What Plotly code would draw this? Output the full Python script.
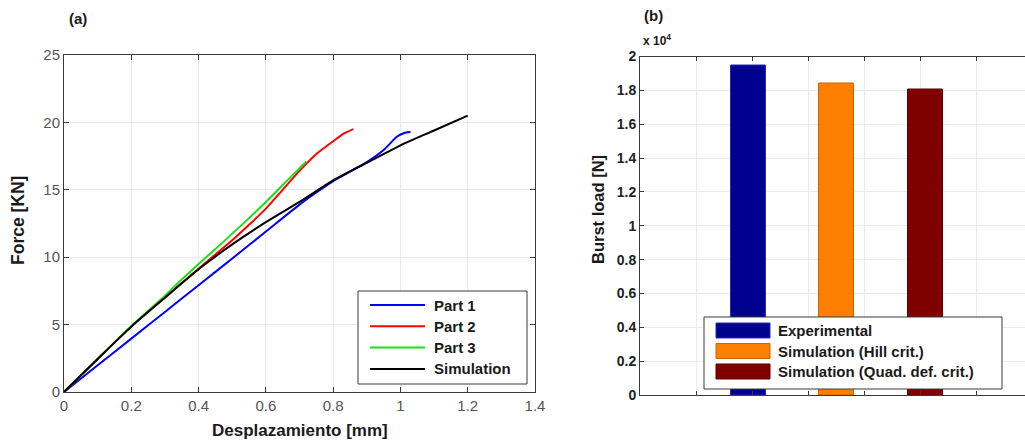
import plotly.graph_objects as go

# ---------------- data ----------------
part1_x = [0, 0.1, 0.2, 0.3, 0.4, 0.5, 0.6, 0.7, 0.75, 0.8, 0.9, 0.95, 0.99, 1.01, 1.03]
part1_y = [0, 1.98, 3.96, 5.94, 7.92, 9.9, 11.9, 13.9, 14.8, 15.65, 17.05, 17.95, 18.95, 19.2, 19.3]

part2_x = [0, 0.1, 0.2, 0.3, 0.4, 0.45, 0.5, 0.55, 0.6, 0.65, 0.7, 0.75, 0.8, 0.83, 0.86]
part2_y = [0, 2.45, 4.85, 7.0, 9.15, 10.2, 11.25, 12.4, 13.6, 15.0, 16.4, 17.65, 18.6, 19.15, 19.5]

part3_x = [0, 0.1, 0.2, 0.3, 0.35, 0.4, 0.45, 0.5, 0.55, 0.6, 0.65, 0.7, 0.72]
part3_y = [0, 2.45, 4.9, 7.15, 8.35, 9.5, 10.6, 11.75, 12.9, 14.1, 15.35, 16.6, 17.1]

sim_x = [0, 0.1, 0.2, 0.3, 0.4, 0.5, 0.6, 0.7, 0.8, 0.9, 1.0, 1.1, 1.2]
sim_y = [0, 2.45, 4.85, 7.0, 9.1, 10.95, 12.6, 14.1, 15.7, 17.0, 18.3, 19.4, 20.5]

line_names = ["Part 1", "Part 2", "Part 3", "Simulation"]

bar_names = ["Experimental", "Simulation (Hill crit.)", "Simulation (Quad. def. crit.)"]
burst_load = [19470, 18390, 18060]   # N

burst_ticks = [0, 2000, 4000, 6000, 8000, 10000, 12000, 14000, 16000, 18000, 20000]
burst_ticktext = ["0", "0.2", "0.4", "0.6", "0.8", "1", "1.2", "1.4", "1.6", "1.8", "2"]

# ---------------- styles / layout constants ----------------
W, H = 1025, 441
FONT = "Liberation Sans, Arial, sans-serif"
line_colors = ["#0000ff", "#ff0000", "#19e019", "#000000"]
bar_colors = ["#00008f", "#ff8000", "#800000"]
bar_edges = ["#2a2ab0", "#d06000", "#600000"]
GRID = "#ebebeb"
AXC = "#3a3a3a"

def px(x):
    return x / W

def py(y):
    return 1 - y / H

fig = go.Figure()

series = [(part1_x, part1_y), (part2_x, part2_y), (part3_x, part3_y), (sim_x, sim_y)]
for (xs, ys), name, col in zip(series, line_names, line_colors):
    fig.add_trace(go.Scatter(x=xs, y=ys, mode="lines", name=name,
                             line=dict(color=col, width=2, shape="spline", smoothing=0.6),
                             showlegend=False, xaxis="x", yaxis="y"))

# bars: positions on a numeric axis whose tick spacing is 1
BAR_START, BAR_STEP, BAR_WIDTH = 1.93, 1.58, 0.625
for i, (name, val) in enumerate(zip(bar_names, burst_load)):
    fig.add_trace(go.Bar(x=[BAR_START + i * BAR_STEP], y=[val], name=name, width=BAR_WIDTH,
                         marker=dict(color=bar_colors[i], line=dict(color=bar_edges[i], width=1)),
                         showlegend=False, xaxis="x2", yaxis="y2"))

common_axis = dict(showline=True, linecolor=AXC, linewidth=1, ticks="inside",
                   tickcolor=AXC, ticklen=5, mirror="ticks", zeroline=False,
                   showgrid=True, gridcolor=GRID, gridwidth=1, automargin=False)

fig.update_layout(
    template="none",
    width=W, height=H,
    margin=dict(l=0, r=0, t=0, b=0, pad=0),
    paper_bgcolor="white", plot_bgcolor="white",
    font=dict(family=FONT, color="#222222"),
    showlegend=False,
    xaxis=dict(domain=[px(64), px(535)], range=[0, 1.4], tick0=0, dtick=0.2,
               tickfont=dict(size=15, color="#555555"), anchor="y",
               **common_axis),
    yaxis=dict(domain=[py(392), py(55)], range=[0, 25], tick0=0, dtick=5,
               tickfont=dict(size=15, color="#555555"), anchor="x",
               **common_axis),
    xaxis2=dict(domain=[px(640), 1], range=[0, (1025 - 640) / 56], tick0=0, dtick=1,
                showticklabels=False, anchor="y2", automargin=False,
                showline=True, linecolor=AXC, linewidth=1, ticks="inside",
                tickcolor=AXC, ticklen=4, mirror="ticks", zeroline=False,
                showgrid=True, gridcolor=GRID),
    yaxis2=dict(domain=[py(395), py(56.5)], range=[0, 20000],
                tickmode="array", tickvals=burst_ticks, ticktext=burst_ticktext,
                tickfont=dict(size=14, color="#222222", family=FONT, weight="bold"),
                anchor="x2", automargin=False, showline=True, linecolor=AXC, linewidth=1,
                ticks="inside", tickcolor=AXC, ticklen=4, mirror=False, zeroline=False,
                showgrid=True, gridcolor=GRID),
    bargap=0,
)

annotations = []
shapes = []

def text(s, x, y, size, xanchor="left", angle=0, bold=True, color="#1a1a1a"):
    annotations.append(dict(text=(f"<b>{s}</b>" if bold else s), x=px(x), y=py(y),
                            xref="paper", yref="paper", xanchor=xanchor, yanchor="middle",
                            showarrow=False, textangle=angle,
                            font=dict(size=size, family=FONT, color=color)))

text("(a)", 67, 19, 15)
text("(b)", 642, 15, 15)
text("x 10<sup>4</sup>", 641, 40, 12)
text("Force [KN]", 18, 221, 17.5, xanchor="center", angle=-90)
text("Desplazamiento [mm]", 300, 430, 17, xanchor="center")
text("Burst load [N]", 598, 210, 16.5, xanchor="center", angle=-90)

# left legend
shapes.append(dict(type="rect", xref="paper", yref="paper", x0=px(358), x1=px(527),
                   y0=py(384), y1=py(291), fillcolor="white",
                   line=dict(color=AXC, width=1), layer="above"))
for i, (name, col) in enumerate(zip(line_names, line_colors)):
    yy = 305 + 21.3 * i
    shapes.append(dict(type="line", xref="paper", yref="paper", x0=px(370), x1=px(425),
                       y0=py(yy), y1=py(yy), line=dict(color=col, width=2), layer="above"))
    text(name, 432, yy, 15)

# right legend
shapes.append(dict(type="rect", xref="paper", yref="paper", x0=px(704), x1=px(1002),
                   y0=py(389), y1=py(317), fillcolor="white",
                   line=dict(color=AXC, width=1), layer="above"))
for i, (name, col) in enumerate(zip(bar_names, bar_colors)):
    yy = 330.5 + 20.5 * i
    shapes.append(dict(type="rect", xref="paper", yref="paper", x0=px(716), x1=px(770),
                       y0=py(yy + 7.5), y1=py(yy - 7.5), fillcolor=col,
                       line=dict(color=bar_edges[i], width=1), layer="above"))
    text(name, 776, yy, 15)

fig.update_layout(annotations=annotations, shapes=shapes)
fig.write_html("out.html", config={"displayModeBar": False},
               post_script="document.body.style.margin='0px';"
                           "document.body.style.padding='0px';"
                           "document.body.style.overflow='hidden';")
